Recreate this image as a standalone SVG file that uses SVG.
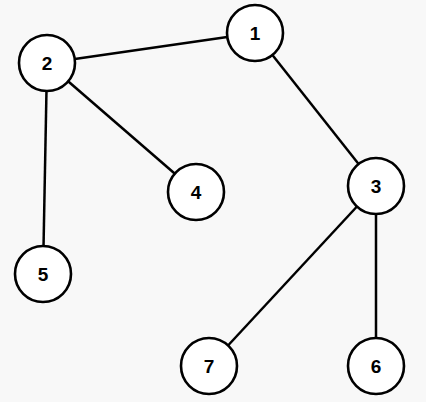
<svg xmlns="http://www.w3.org/2000/svg" width="426" height="402" viewBox="0 0 426 402">
<style>
.edge{stroke:#000;stroke-width:2.5;fill:none}
.node circle{fill:#fff;stroke:#000;stroke-width:2.6}
.node text{font-family:"Liberation Sans",Arial,sans-serif;font-weight:bold;font-size:19px;fill:#000;text-anchor:middle;dominant-baseline:central}
</style>
<rect width="426" height="402" fill="#f8f8f8"/>
<g id="edges">
<line class="edge" x1="47" y1="63" x2="255" y2="33"/>
<line class="edge" x1="255" y1="33" x2="376" y2="186"/>
<line class="edge" x1="47" y1="63" x2="196" y2="192"/>
<line class="edge" x1="47" y1="63" x2="43" y2="274"/>
<line class="edge" x1="376" y1="186" x2="209" y2="366"/>
<line class="edge" x1="376" y1="186" x2="376" y2="366"/>
</g>
<g id="node1" class="node"><circle cx="255" cy="33" r="28"/><text x="255" y="33">1</text></g>
<g id="node2" class="node"><circle cx="47" cy="63" r="28"/><text x="47" y="63">2</text></g>
<g id="node3" class="node"><circle cx="376" cy="186" r="28"/><text x="376" y="186">3</text></g>
<g id="node4" class="node"><circle cx="196" cy="192" r="28"/><text x="196" y="192">4</text></g>
<g id="node5" class="node"><circle cx="43" cy="274" r="28"/><text x="43" y="274">5</text></g>
<g id="node6" class="node"><circle cx="376" cy="366" r="28"/><text x="376" y="366">6</text></g>
<g id="node7" class="node"><circle cx="209" cy="366" r="28"/><text x="209" y="366">7</text></g>
</svg>
